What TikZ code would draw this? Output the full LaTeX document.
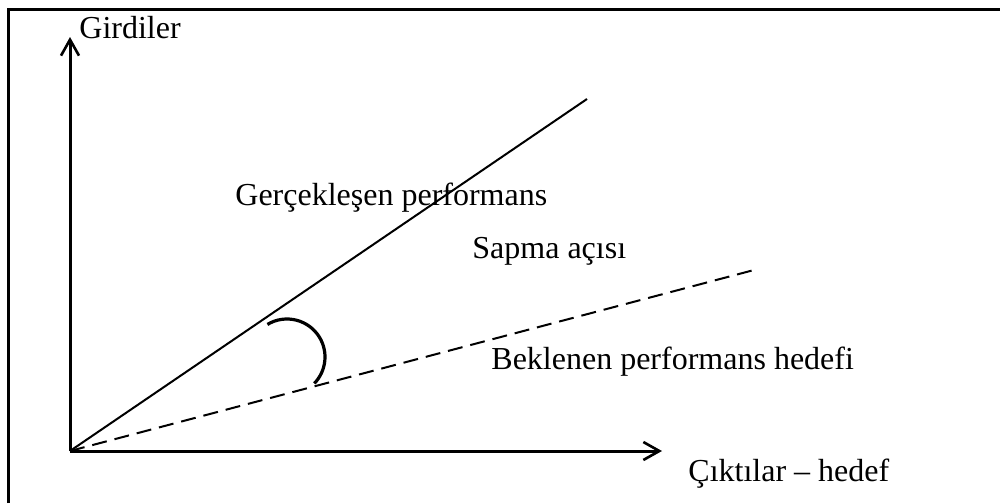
\documentclass[tikz,border=0pt]{standalone}
\usepackage{fontspec}
\setmainfont{Liberation Serif}
\usetikzlibrary{arrows.meta}
\begin{document}
\begin{tikzpicture}[x=0.5pt,y=-0.5pt,
  frameline/.style={line width=1.5pt},
  axisline/.style={line width=1.5pt,-{Straight Barb[length=8pt,width=9pt,line width=1.3pt]}},
  perfline/.style={line width=1pt},
  targetline/.style={line width=1pt,dash pattern=on 7.5pt off 4pt},
  anglearc/.style={line width=1.6pt},
  lbl/.style={anchor=base west,inner sep=0pt,font=\fontsize{16}{19}\selectfont}]
  \useasboundingbox (0,0) rectangle (1000,503);
  % outer frame (open at right and bottom)
  \draw[frameline] (8,503) -- (8,9) -- (1000,9);
  % axes
  \coordinate (O) at (70,451);
  \coordinate (ytop) at (70,37);
  \coordinate (xend) at (662,451);
  \draw[axisline] (O) -- (ytop);
  \draw[axisline] (O) -- (xend);
  % realised and expected performance lines
  \coordinate (actual) at (587,99);
  \coordinate (target) at (754,270);
  \draw[perfline] (O) -- (actual);
  \draw[targetline] (O) -- (target);
  % deviation angle (y axis points down, so angles run clockwise)
  \coordinate (c) at (287,357);
  \draw[anglearc] (c) ++(-121:38) arc[start angle=-121,end angle=44,radius=38];
  % labels
  \node[lbl] (ylab) at (79,39) {Girdiler};
  \node[lbl] (actlab) at (235,205) {Gerçekleşen performans};
  \node[lbl] (anglab) at (472,258) {Sapma açısı};
  \node[lbl] (tgtlab) at (491,369) {Beklenen performans hedefi};
  \node[lbl] (xlab) at (688,481) {Çıktılar – hedef};
\end{tikzpicture}
\end{document}
